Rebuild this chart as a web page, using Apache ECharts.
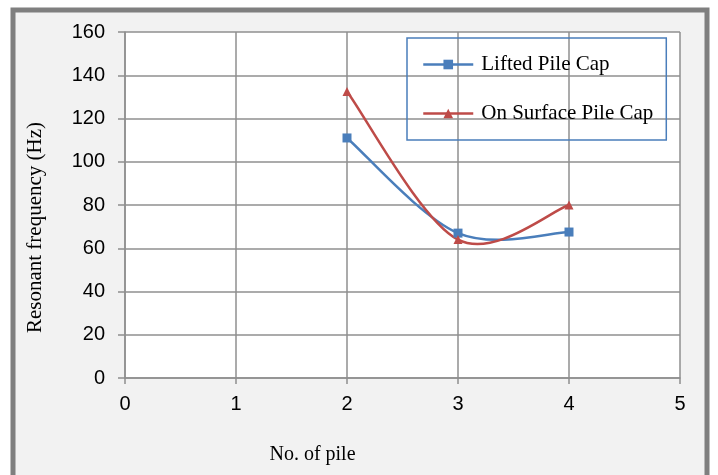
<!DOCTYPE html>
<html>
<head>
<meta charset="utf-8">
<script src="https://cdn.jsdelivr.net/npm/echarts@6/dist/echarts.min.js"></script>
<style>
  html, body { margin: 0; padding: 0; background: #ffffff; }
  #chart { width: 718px; height: 475px; }
</style>
</head>
<body>
<div id="chart"></div>
<script>
// Number of piles and measured resonant frequency (Hz)
const pileCounts = [2, 3, 4];
const liftedCap = [111, 67, 67.5];
const surfaceCap = [132.5, 64, 80];
const seriesNames = ['Lifted Pile Cap', 'On Surface Pile Cap'];
const xTitle = 'No. of pile';
const yTitle = 'Resonant frequency (Hz)';

const blue = '#4a7ebb';
const red = '#be4b48';
const gridColor = '#8f8f8f';

const pairs = (xs, ys) => xs.map((x, i) => [x, ys[i]]);

// Smooth curve through the points (Catmull-Rom style Bezier segments,
// endpoints repeated), drawn in pixel space from the axis scales.
function smoothSegment(xs, ys, color) {
  return function (params, api) {
    const i = params.dataIndex;
    const n = xs.length;
    if (i >= n - 1) return null;
    const pt = k => api.coord([xs[Math.max(0, Math.min(n - 1, k))], ys[Math.max(0, Math.min(n - 1, k))]]);
    const p0 = pt(i - 1), p1 = pt(i), p2 = pt(i + 1), p3 = pt(i + 2);
    const t = 1 / 6;
    return {
      type: 'bezierCurve',
      shape: {
        x1: p1[0], y1: p1[1],
        cpx1: p1[0] + (p2[0] - p0[0]) * t, cpy1: p1[1] + (p2[1] - p0[1]) * t,
        cpx2: p2[0] - (p3[0] - p1[0]) * t, cpy2: p2[1] - (p3[1] - p1[1]) * t,
        x2: p2[0], y2: p2[1]
      },
      style: { stroke: color, lineWidth: 2.5, fill: null, lineCap: 'round' },
      silent: true
    };
  };
}

const chart = echarts.init(document.getElementById('chart'), null, { renderer: 'canvas' });

chart.setOption({
  backgroundColor: '#ffffff',
  animation: false,
  graphic: {
    elements: [{
      type: 'rect',
      z: -100,
      silent: true,
      shape: { x: 13, y: 10, width: 694, height: 500 },
      style: { fill: '#f2f2f2', stroke: '#7f7f7f', lineWidth: 5 }
    }]
  },
  grid: {
    left: 125, right: 38, top: 32, bottom: 97,
    show: true, backgroundColor: '#ffffff', borderWidth: 0
  },
  legend: {
    left: 407, top: 38,
    orient: 'vertical',
    backgroundColor: 'transparent',
    borderColor: blue,
    borderWidth: 1.5,
    borderRadius: 0,
    padding: [16, 13, 16, 15],
    itemWidth: 50,
    itemHeight: 12,
    itemGap: 28,
    textStyle: {
      fontFamily: '"Liberation Serif", "Times New Roman", serif',
      fontSize: 21,
      color: '#000000',
      padding: [0, 0, 0, 3]
    },
    data: [
      { name: seriesNames[0], lineStyle: { color: blue, width: 2.5, opacity: 1 } },
      { name: seriesNames[1], lineStyle: { color: red, width: 2.5, opacity: 1 } }
    ]
  },
  xAxis: {
    type: 'value',
    min: 0, max: 5, interval: 1,
    name: xTitle,
    nameLocation: 'middle',
    nameGap: 67,
    nameTextStyle: {
      fontFamily: '"Liberation Serif", "Times New Roman", serif',
      fontSize: 20, color: '#000000',
      padding: [0, 180, 0, 0]
    },
    axisLine: { show: true, onZero: false, lineStyle: { color: gridColor, width: 1.5 } },
    axisTick: { show: true, length: 6, lineStyle: { color: gridColor, width: 1.5 } },
    axisLabel: {
      margin: 16,
      fontFamily: '"Liberation Sans", Arial, sans-serif',
      fontSize: 20, color: '#000000'
    },
    splitLine: { show: true, lineStyle: { color: gridColor, width: 1.5 } }
  },
  yAxis: {
    type: 'value',
    min: 0, max: 160, interval: 20,
    name: yTitle,
    nameLocation: 'middle',
    nameRotate: 90,
    nameGap: 79,
    nameTextStyle: {
      fontFamily: '"Liberation Serif", "Times New Roman", serif',
      fontSize: 21, color: '#000000',
      padding: [0, 45, 0, 0]
    },
    axisLine: { show: true, lineStyle: { color: gridColor, width: 1.5 } },
    axisTick: { show: true, length: 7, lineStyle: { color: gridColor, width: 1.5 } },
    axisLabel: {
      margin: 20,
      fontFamily: '"Liberation Sans", Arial, sans-serif',
      fontSize: 20, color: '#000000'
    },
    splitLine: { show: true, lineStyle: { color: gridColor, width: 1.5 } }
  },
  series: [
    // markers (and legend entries)
    {
      name: seriesNames[0],
      type: 'line',
      data: pairs(pileCounts, liftedCap),
      symbol: 'rect',
      symbolSize: 9,
      lineStyle: { color: blue, width: 2.5, opacity: 0 },
      itemStyle: { color: blue },
      z: 5
    },
    {
      name: seriesNames[1],
      type: 'line',
      data: pairs(pileCounts, surfaceCap),
      symbol: 'triangle',
      symbolSize: 9,
      lineStyle: { color: red, width: 2.5, opacity: 0 },
      itemStyle: { color: red },
      z: 6
    },
    // smoothed curves
    {
      name: seriesNames[0],
      type: 'custom',
      data: pairs(pileCounts, liftedCap),
      renderItem: smoothSegment(pileCounts, liftedCap, blue),
      z: 3
    },
    {
      name: seriesNames[1],
      type: 'custom',
      data: pairs(pileCounts, surfaceCap),
      renderItem: smoothSegment(pileCounts, surfaceCap, red),
      z: 4
    }
  ]
});
</script>
</body>
</html>
